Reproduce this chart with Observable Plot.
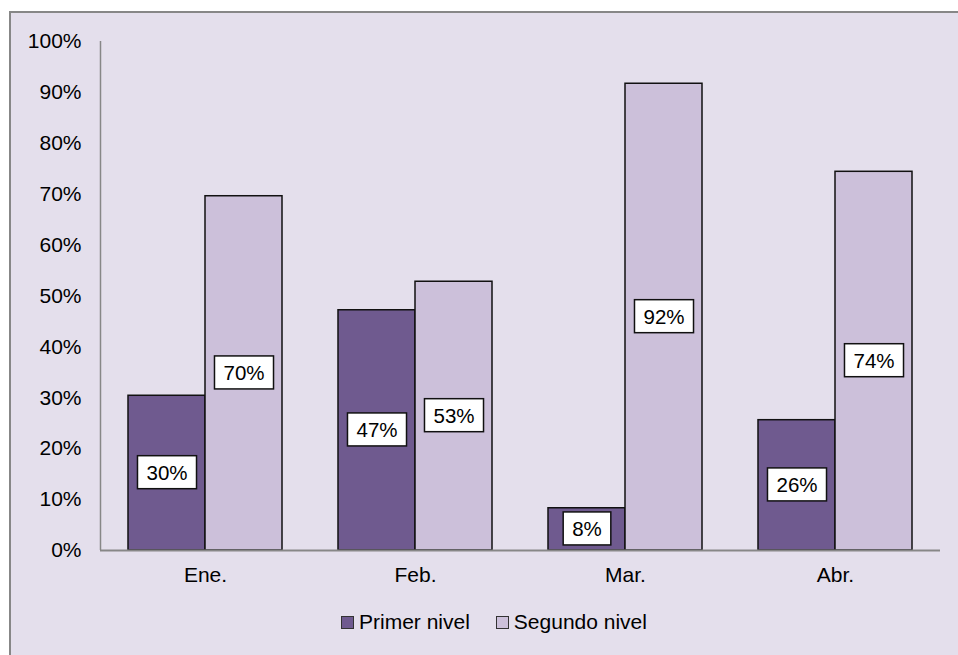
<!DOCTYPE html>
<html>
<head>
<meta charset="utf-8">
<script src="https://cdn.jsdelivr.net/npm/d3@7"></script>
<script src="https://cdn.jsdelivr.net/npm/@observablehq/plot@0.6"></script>
<style>
  html, body { margin: 0; padding: 0; background: #fff; overflow: hidden; }
  #wrap { position: relative; width: 958px; height: 655px; overflow: hidden; font-family: "Liberation Sans", Arial, sans-serif; }
  #panel { position: absolute; left: 9px; top: 11px; width: 980px; height: 700px; background: #e4dfec; border-left: 2px solid #878787; border-top: 2px solid #878787; }
  #chart { position: absolute; left: 0; top: 0; }
  #legend { position: absolute; left: 341px; top: 610px; display: flex; align-items: center; font-size: 21px; color: #000; white-space: nowrap; }
  #legend .sw { display: inline-block; width: 11px; height: 11px; border: 1px solid #333; margin-right: 5px; }
  #legend .item { display: flex; align-items: center; margin-right: 26px; }
</style>
</head>
<body>
<div id="wrap">
  <div id="panel"></div>
  <div id="chart"></div>
  <div id="legend"></div>
</div>
<script>
const months = ["Ene.", "Feb.", "Mar.", "Abr."];
const series = ["Primer nivel", "Segundo nivel"];
const primerNivel = [0.304, 0.472, 0.083, 0.256];
const segundoNivel = [0.696, 0.528, 0.917, 0.744];
const yTicks = [0, 0.1, 0.2, 0.3, 0.4, 0.5, 0.6, 0.7, 0.8, 0.9, 1.0];
const colors = ["#6f5a8f", "#ccc0da"];

const fmt = d3.format(".0%");
const dataPrimer = months.map((m, i) => ({month: m, serie: series[0], value: primerNivel[i]}));
const dataSegundo = months.map((m, i) => ({month: m, serie: series[1], value: segundoNivel[i]}));

const font = "'Liberation Sans', Arial, sans-serif";

const chart = Plot.plot({
  width: 958,
  height: 600,
  marginLeft: 100,
  marginRight: 18,
  marginTop: 41,
  marginBottom: 50,
  style: {background: "transparent", fontFamily: font, fontSize: "21px", color: "#000"},
  x: {domain: months, padding: 0, round: false, label: null, tickSize: 0, tickPadding: 17},
  y: {domain: [0, 1], ticks: yTicks, tickFormat: ".0%", label: null, tickSize: 0, tickPadding: 19},
  marks: [
    Plot.barY(dataPrimer, {x: "month", y: "value", fill: colors[0], stroke: "#111", strokeWidth: 1.5, insetLeft: 28, insetRight: 105}),
    Plot.barY(dataSegundo, {x: "month", y: "value", fill: colors[1], stroke: "#111", strokeWidth: 1.5, insetLeft: 105, insetRight: 28}),
    Plot.ruleY([0], {stroke: "#878787", strokeWidth: 2}),
    Plot.ruleX([months[0]], {y1: 0, y2: 1, dx: -105, stroke: "#878787", strokeWidth: 1.5}),
    Plot.text(dataPrimer, {x: "month", y: d => d.value / 2, text: d => fmt(d.value), dx: -38.5, fill: "#000", fontSize: 20.5, className: "vlabel"}),
    Plot.text(dataSegundo, {x: "month", y: d => d.value / 2, text: d => fmt(d.value), dx: 38.5, fill: "#000", fontSize: 20.5, className: "vlabel"})
  ]
});

document.getElementById("chart").appendChild(chart);

// white boxes behind value labels
chart.querySelectorAll("g.vlabel text").forEach(t => {
  const bb = t.getBBox();
  const r = document.createElementNS("http://www.w3.org/2000/svg", "rect");
  r.setAttribute("x", bb.x - 9);
  r.setAttribute("y", bb.y - 5);
  r.setAttribute("width", bb.width + 18);
  r.setAttribute("height", bb.height + 10);
  r.setAttribute("fill", "#fff");
  r.setAttribute("stroke", "#111");
  r.setAttribute("stroke-width", 1.5);
  const tr = t.getAttribute("transform");
  if (tr) r.setAttribute("transform", tr);
  t.parentNode.insertBefore(r, t);
});

// legend
const legend = document.getElementById("legend");
series.forEach((s, i) => {
  const item = document.createElement("span");
  item.className = "item";
  const sw = document.createElement("span");
  sw.className = "sw";
  sw.style.background = colors[i];
  item.appendChild(sw);
  item.appendChild(document.createTextNode(s));
  legend.appendChild(item);
});
</script>
</body>
</html>
